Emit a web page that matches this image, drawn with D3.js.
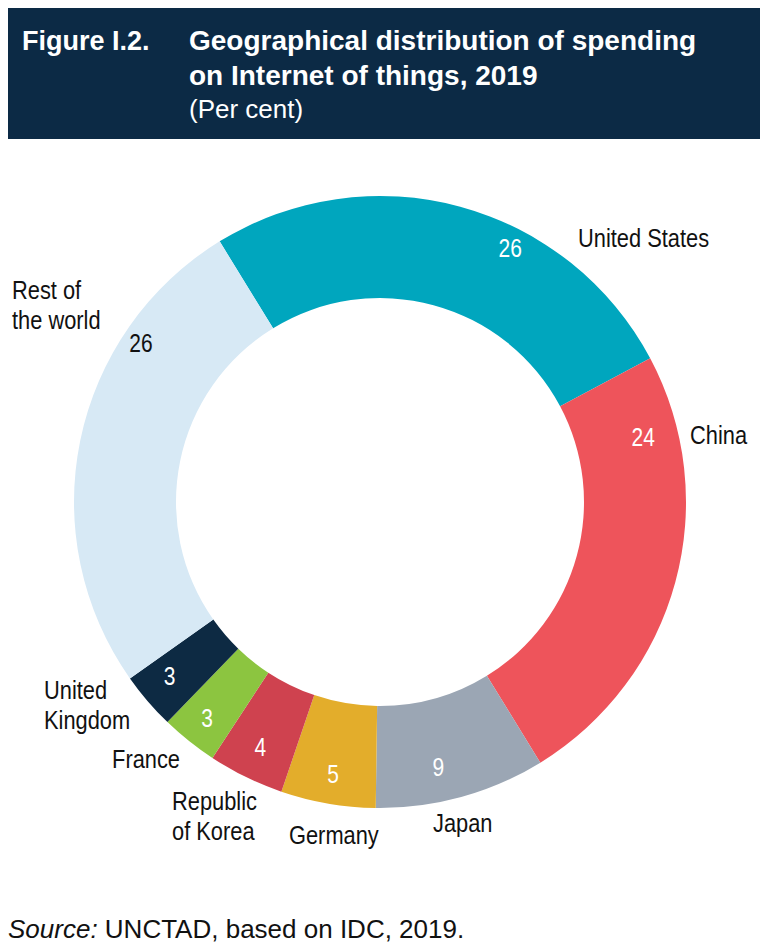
<!DOCTYPE html>
<html><head><meta charset="utf-8">
<script src="https://cdn.jsdelivr.net/npm/d3@7"></script>
<style>
body{margin:0;background:#fff;}
svg{display:block;}
</style></head>
<body><div id="chart"></div>
<script>
// IoT spending share by country, 2019 (per cent)
const countries = ["United States", "China", "Japan", "Germany", "Republic of Korea", "France", "United Kingdom", "Rest of the world"];
const shares = [26, 24, 9, 5, 4, 3, 3, 26];
const colors = ["#00a6be", "#ee545b", "#9ba6b4", "#e3ad2b", "#cf424f", "#8cc540", "#0d2a43", "#d7e9f5"];
const valueColors = ["#fff", "#fff", "#fff", "#fff", "#fff", "#fff", "#fff", "#111"];
// small angle nudges for the value labels (degrees)
const valueShift = [12, -29, 3, 0, 0, 0, 1, 22];
const valueRadius = [285, 271, 272, 276, 273, 277, 273, 287];
// category label lines and placement
const labelLines = [["United States"], ["China"], ["Japan"], ["Germany"], ["Republic", "of Korea"], ["France"], ["United", "Kingdom"], ["Rest of", "the world"]];
const labelPos = [[578, 247, "start"], [690, 444, "start"], [433, 832, "start"], [289, 844, "start"], [172, 810, "start"], [180, 768, "end"], [44, 699, "start"], [12, 299, "start"]];

const W = 768, H = 951;
const cx = 380, cy = 502, rOuter = 306, rInner = 204;
const startDeg = -31.6;
const squeeze = 0.84; // condensed look for labels

const svg = d3.select("#chart").append("svg").attr("width", W).attr("height", H);

// header
svg.append("rect").attr("x", 8).attr("y", 8).attr("width", 752).attr("height", 131).attr("fill", "#0c2a45");
const hf = "Liberation Sans, Arial, sans-serif";
svg.append("text").attr("x", 22).attr("y", 50).attr("fill", "#fff").attr("font-family", hf)
    .attr("font-size", 27).attr("font-weight", "bold").text("Figure I.2.");
svg.append("text").attr("x", 189).attr("y", 50).attr("fill", "#fff").attr("font-family", hf)
    .attr("font-size", 28).attr("font-weight", "bold").text("Geographical distribution of spending");
svg.append("text").attr("x", 189).attr("y", 85).attr("fill", "#fff").attr("font-family", hf)
    .attr("font-size", 28).attr("font-weight", "bold").text("on Internet of things, 2019");
svg.append("text").attr("x", 189).attr("y", 118).attr("fill", "#fff").attr("font-family", hf)
    .attr("font-size", 26).text("(Per cent)");

const data = countries.map((c, i) => ({ name: c, value: shares[i], i }));
const toRad = d => d * Math.PI / 180;
const pie = d3.pie().value(d => d.value).sort(null)
    .startAngle(toRad(startDeg)).endAngle(toRad(startDeg + 360));
const arcs = pie(data);
const arc = d3.arc().innerRadius(rInner).outerRadius(rOuter);

const g = svg.append("g").attr("transform", `translate(${cx},${cy})`);
g.selectAll("path").data(arcs).enter().append("path")
    .attr("d", arc).attr("fill", d => colors[d.index]);

const lf = "Liberation Sans, Arial, sans-serif";
const ang = d => (d.startAngle + d.endAngle) / 2 + toRad(valueShift[d.index]);
g.selectAll("text.val").data(arcs).enter().append("text")
    .attr("class", "val")
    .attr("transform", d => `translate(${Math.sin(ang(d)) * valueRadius[d.index]},${-Math.cos(ang(d)) * valueRadius[d.index]}) scale(${squeeze},1)`)
    .attr("dy", "0.35em").attr("text-anchor", "middle")
    .attr("font-family", lf).attr("font-size", 25)
    .attr("fill", d => valueColors[d.index]).text(d => d.data.value);

labelLines.forEach((lines, i) => {
    const t = svg.append("text")
        .attr("transform", `translate(${labelPos[i][0]},${labelPos[i][1]}) scale(${squeeze},1)`)
        .attr("text-anchor", labelPos[i][2]).attr("font-family", lf)
        .attr("font-size", 26).attr("fill", "#111");
    lines.forEach((l, k) => t.append("tspan").attr("x", 0).attr("dy", k ? 30 : 0).text(l));
});

// source
const s = svg.append("text").attr("x", 8).attr("y", 938).attr("font-family", hf).attr("font-size", 26).attr("fill", "#111");
s.append("tspan").attr("font-style", "italic").text("Source:");
s.append("tspan").text(" UNCTAD, based on IDC, 2019.");
</script></body></html>
